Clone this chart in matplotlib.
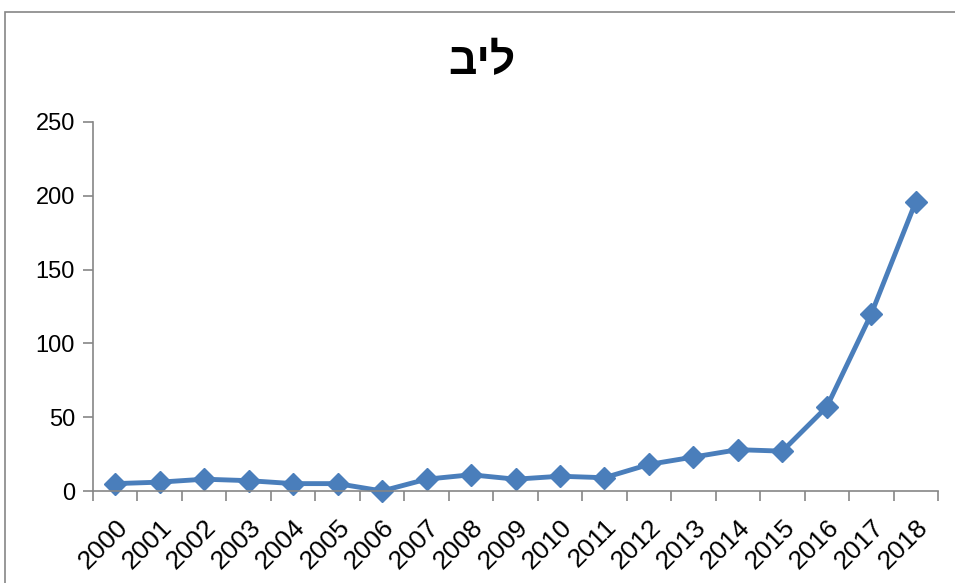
import matplotlib.pyplot as plt
import matplotlib.transforms as mtransforms
from matplotlib.patches import Rectangle

years = [str(y) for y in range(2000, 2019)]
values = [5, 6, 8, 7, 5, 5, 0, 8, 11, 8, 10, 9, 18, 23, 28, 27, 57, 120, 196]
title = "ליב"

line_color = "#4A7EBB"
axis_color = "#868686"

plt.rcParams['font.family'] = ['Liberation Sans', 'DejaVu Sans']

fig = plt.figure(figsize=(9.55, 5.83), dpi=100)
ax = fig.add_axes([93 / 955, 1 - 491 / 583, 845 / 955, 369 / 583])

# outer chart border (cropped on right and bottom)
fig.patches.append(Rectangle((5 / 955, -0.1), 1.2, 1 - 12 / 583 + 0.1,
                             transform=fig.transFigure, fill=False,
                             edgecolor=axis_color, linewidth=1.2))

x = range(len(years))
ax.plot(x, values, color=line_color, linewidth=3.5, marker='D',
        markersize=11, markerfacecolor=line_color, markeredgecolor=line_color,
        clip_on=False)

ax.set_xlim(-0.5, len(years) - 0.5)
ax.set_ylim(0, 250)
ax.set_yticks([0, 50, 100, 150, 200, 250])

ax.set_xticks([i + 0.5 for i in range(-1, len(years))], minor=False)
ax.set_xticklabels([])
ax.set_xticks(list(x), minor=True)
labels = ax.set_xticklabels(years, minor=True, rotation=45, ha='right',
                            rotation_mode='anchor', fontsize=19)
shift = mtransforms.ScaledTranslation(8 / 100, 0, fig.dpi_scale_trans)
for lab in labels:
    lab.set_transform(lab.get_transform() + shift)
ax.tick_params(axis='x', which='minor', length=0, pad=17)
ax.tick_params(axis='x', which='major', length=7, color=axis_color, width=1.2)
ax.tick_params(axis='y', length=7, color=axis_color, width=1.2, labelsize=17, pad=6)

for side in ['top', 'right']:
    ax.spines[side].set_visible(False)
for side in ['left', 'bottom']:
    ax.spines[side].set_color(axis_color)
    ax.spines[side].set_linewidth(1.2)

# Hebrew title, reversed for left-to-right rendering
fig.text(482 / 955, 1 - 63 / 583, title[::-1], ha='center', va='center',
         fontsize=32, fontweight='bold')

fig.savefig("out.png", dpi=100)
